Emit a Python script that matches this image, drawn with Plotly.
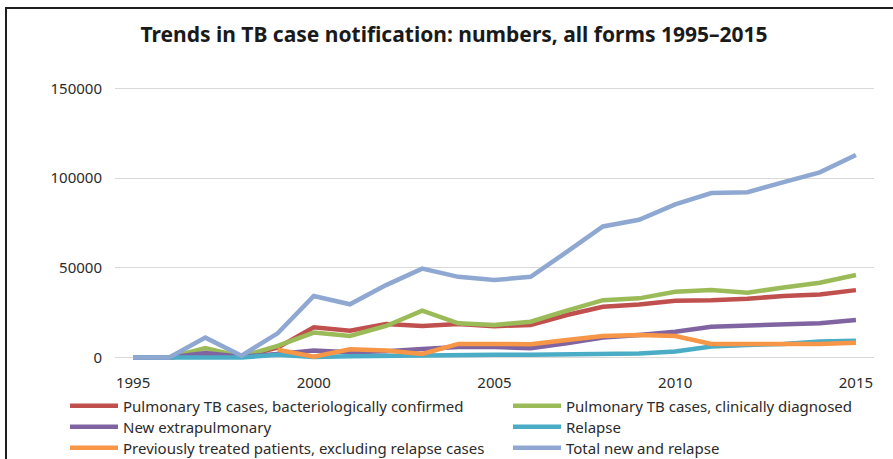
import plotly.graph_objects as go

years = list(range(1995, 2016))

bact_confirmed = [0, 0, 2000, 500, 5500, 16900, 15000, 18700, 17600, 18700, 17500,
                  18200, 23700, 28300, 29600, 31700, 32000, 32800, 34300, 35200, 37600]
clin_diagnosed = [0, 0, 5200, 500, 6500, 13900, 12000, 17600, 26100, 19100, 18200,
                  20000, 26100, 32000, 33000, 36700, 37600, 36100, 39100, 41700, 46000]
extrapulmonary = [0, 0, 2500, 500, 2000, 3900, 3000, 3500, 4800, 5800, 5800,
                  5200, 8000, 11100, 12600, 14400, 17200, 17800, 18500, 19100, 20900]
relapse = [0, 0, 500, 0, 1500, 300, 700, 1000, 1500, 1500, 1500,
           1500, 1700, 2000, 2200, 3300, 6100, 7000, 7600, 8900, 9300]
prev_treated = [None, None, None, None, 4300, 500, 4600, 3900, 2000, 7600, 7600,
                7400, 9800, 12000, 12600, 12000, 7600, 7400, 7400, 7600, 8300]
total = [0, 0, 11100, 1000, 13500, 34300, 29700, 40400, 49600, 45000, 43200,
         45000, 58900, 73100, 76800, 85400, 91700, 92200, 97800, 103300, 113000]

names = [
    "Pulmonary TB cases, bacteriologically confirmed",
    "Pulmonary TB cases, clinically diagnosed",
    "New extrapulmonary",
    "Relapse",
    "Previously treated patients, excluding relapse cases",
    "Total new and relapse",
]
series = [bact_confirmed, clin_diagnosed, extrapulmonary, relapse, prev_treated, total]
colors = ["#C0504D", "#9BBB59", "#8064A2", "#4BACC6", "#F79646", "#8EA8D2"]

title_text = "Trends in TB case notification: numbers, all forms 1995\u20132015"
x_ticks = [1995, 2000, 2005, 2010, 2015]
y_ticks = [0, 50000, 100000, 150000]

FONT = "Noto Sans"
TXT = "#2b2b2b"

W, H = 893, 459
L, R, T, B = 115, 19, 85, 97
pw = W - L - R
ph = H - T - B

def px_to_paper_x(px):
    return (px - L) / pw

def px_to_paper_y(py):
    return (H - B - py) / ph

legend_ids = ["legend", "legend2", "legend3", "legend4", "legend5", "legend6"]
col_px = [65, 508]
row_px = [406, 427, 448]

fig = go.Figure()
for i, (name, vals, col) in enumerate(zip(names, series, colors)):
    fig.add_trace(go.Scatter(
        x=years, y=vals, name=name, mode="lines",
        line=dict(color=col, width=4.5),
        connectgaps=False, legend=legend_ids[i], showlegend=True,
    ))

legend_layouts = {}
for i, lid in enumerate(legend_ids):
    legend_layouts[lid] = dict(
        orientation="v",
        x=px_to_paper_x(col_px[i % 2]), xanchor="left",
        y=px_to_paper_y(row_px[i // 2]), yanchor="middle",
        itemwidth=48,
        font=dict(family=FONT, size=15, color=TXT),
        bgcolor="rgba(0,0,0,0)",
        borderwidth=0,
    )

fig.update_layout(
    width=W, height=H,
    showlegend=True,
    margin=dict(l=L, r=R, t=T, b=B, pad=0, autoexpand=False),
    paper_bgcolor="white", plot_bgcolor="white",
    font=dict(family=FONT, size=15, color=TXT),
    title=dict(
        text="<b>" + title_text + "</b>",
        x=454 / W, xanchor="center", xref="container",
        y=1 - 35 / H, yanchor="middle", yref="container",
        font=dict(family=FONT, size=21, color="#1a1a1a"),
    ),
    xaxis=dict(
        range=[1994.5, 2015.5],
        tickmode="array", tickvals=x_ticks, ticktext=[str(v) for v in x_ticks],
        showgrid=False, zeroline=False, showline=False,
        ticks="", ticklabelstandoff=10,
        tickfont=dict(family=FONT, size=15, color=TXT),
    ),
    yaxis=dict(
        range=[-2500, 152000],
        tickmode="array", tickvals=y_ticks, ticktext=[str(v) for v in y_ticks],
        showgrid=True, gridcolor="#d9d9d9", gridwidth=1,
        zeroline=False, showline=False, ticks="", ticklabelstandoff=12,
        tickfont=dict(family=FONT, size=15, color=TXT),
    ),
    shapes=[
        dict(type="rect", xref="paper", yref="paper",
             x0=px_to_paper_x(6), x1=px_to_paper_x(905),
             y0=px_to_paper_y(475), y1=px_to_paper_y(8),
             line=dict(color="#1f1f1f", width=2), fillcolor="rgba(0,0,0,0)",
             layer="below"),
    ],
    **legend_layouts,
)

fig.write_html("out.html", config={"displayModeBar": False},
               post_script="document.body.style.margin='0px';")
